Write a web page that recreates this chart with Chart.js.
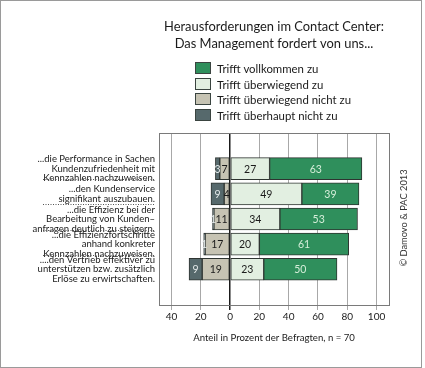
<!DOCTYPE html>
<html>
<head>
<meta charset="utf-8">
<script src="https://cdn.jsdelivr.net/npm/chart.js@4"></script>
<style>
  html, body { margin: 0; padding: 0; background: #fff; }
  #wrap { position: relative; width: 425px; height: 368px; font-family: Lato, sans-serif; color: #1a1a1a; }
  #frame { position: absolute; left: 0; top: 0; width: 422px; height: 368px; box-sizing: border-box; border: 1px solid #9a9a9a; pointer-events: none; }
  #chart-legend { position: absolute; left: 195px; top: 62px; }
  #chart-legend ul { list-style: none; margin: 0; padding: 0; }
  #chart-legend li { height: 15.5px; line-height: 13px; font-size: 11.4px; white-space: nowrap; }
  #chart-legend li span { display: inline-block; width: 14px; height: 10px; border: 1px solid #3a4440; vertical-align: top; margin-right: 6px; }
  #copy { position: absolute; left: 403px; top: 218px; font-size: 9.3px; color: #333; white-space: nowrap;
          transform: translate(-50%, -50%) rotate(-90deg); }
</style>
</head>
<body>
<div id="wrap">
  <canvas id="contact-chart" width="425" height="368"></canvas>
  <div id="chart-legend"></div>
  <div id="copy">© Damovo &amp; PAC 2013</div>
  <div id="frame"></div>
</div>
<script>
  const categories = [
    ['...die Performance in Sachen', 'Kundenzufriedenheit mit', 'Kennzahlen nachzuweisen.'],
    ['...den Kundenservice', 'signifikant auszubauen.'],
    ['...die Effizienz bei der', 'Bearbeitung von Kunden–', 'anfragen deutlich zu steigern.'],
    ['...die Effizienzfortschritte', 'anhand konkreter', 'Kennzahlen nachzuweisen.'],
    ['....den Vertrieb effektiver zu', 'unterstützen bzw. zusätzlich', 'Erlöse zu erwirtschaften.']
  ];
  const vollkommen = [63, 39, 53, 61, 50];
  const ueberwiegend = [27, 49, 34, 20, 23];
  const ueberwiegendNicht = [7, 4, 11, 17, 19];
  const ueberhauptNicht = [3, 9, 1, 1, 9];
  const xTicks = [-40, -20, 0, 20, 40, 60, 80, 100];

  const green = '#2f8f5c';
  const lightGreen = '#e2efe1';
  const tan = '#c6c3b3';
  const slate = '#56696c';

  const ctx = document.getElementById('contact-chart');

  // positive side stacks from 0 to the right, negative side from 0 to the left
  const datasets = [
    { label: 'Trifft überwiegend zu', data: ueberwiegend, backgroundColor: lightGreen, textColor: '#1a1a1a' },
    { label: 'Trifft vollkommen zu', data: vollkommen, backgroundColor: green, textColor: '#d5eed9' },
    { label: 'Trifft überwiegend nicht zu', data: ueberwiegendNicht.map(v => -v), backgroundColor: tan, textColor: '#1a1a1a' },
    { label: 'Trifft überhaupt nicht zu', data: ueberhauptNicht.map(v => -v), backgroundColor: slate, textColor: '#e4eaea' }
  ].map(d => Object.assign(d, {
    borderColor: '#2e3431',
    borderWidth: 1,
    borderSkipped: false,
    barThickness: 22
  }));

  const legendOrder = [1, 0, 2, 3];

  const chart = new Chart(ctx, {
    type: 'bar',
    data: {
      labels: categories.map((c, i) => i),
      datasets: datasets
    },
    options: {
      indexAxis: 'y',
      responsive: false,
      animation: false,
      devicePixelRatio: 1,
      layout: {
        padding: { left: 0, right: 36, top: 0, bottom: 24 }
      },
      scales: {
        x: {
          type: 'linear',
          stacked: true,
          min: -48.5,
          max: 108.5,
          border: { display: false },
          grid: {
            color: (c) => (c.tick && c.tick.value === 0) ? '#1a1a1a' : '#a8a8a8',
            lineWidth: (c) => (c.tick && c.tick.value === 0) ? 1.5 : 1,
            tickLength: 5
          },
          afterBuildTicks: (scale) => { scale.ticks = xTicks.map(v => ({ value: v })); },
          ticks: {
            padding: 1,
            color: '#1a1a1a',
            font: { family: 'Lato', size: 10 },
            callback: (v) => Math.abs(v)
          },
          title: {
            display: true,
            text: 'Anteil in Prozent der Befragten, n = 70',
            color: '#1a1a1a',
            font: { family: 'Lato', size: 9.6 },
            padding: { top: 8.5, bottom: 0 }
          }
        },
        y: {
          type: 'linear',
          stacked: true,
          reverse: true,
          min: -0.735,
          max: 4.735,
          border: { display: false },
          grid: { display: false, drawTicks: false },
          afterBuildTicks: (scale) => { scale.ticks = categories.map((c, i) => ({ value: i })); },
          afterFit: (scale) => { scale.width = 159; },
          ticks: {
            autoSkip: false,
            padding: 4,
            color: '#1a1a1a',
            font: { family: 'Lato', size: 9.5, lineHeight: 1 },
            callback: (v) => categories[v]
          }
        }
      },
      plugins: {
        legend: { display: false },
        tooltip: { enabled: false },
        title: {
          display: true,
          fullSize: false,
          text: ['Herausforderungen im Contact Center:', 'Das Management fordert von uns...'],
          color: '#1a1a1a',
          font: { family: 'Lato', size: 12.9, weight: 'normal', lineHeight: '17px' },
          padding: { top: 18, bottom: 81 }
        }
      }
    },
    plugins: [{
      id: 'frameAndLabels',
      afterDatasetsDraw: function (chart) {
        const c = chart.ctx;
        const area = chart.chartArea;
        c.save();
        c.font = '10.5px Lato';
        c.textAlign = 'center';
        c.textBaseline = 'middle';
        chart.data.datasets.forEach((ds, i) => {
          chart.getDatasetMeta(i).data.forEach((bar, j) => {
            const p = bar.getProps(['x', 'base', 'y'], true);
            c.fillStyle = ds.textColor;
            c.fillText(Math.abs(ds.data[j]), (p.x + p.base) / 2, p.y + 0.5);
          });
        });
        c.strokeStyle = '#7a7a7a';
        c.lineWidth = 1;
        c.strokeRect(Math.round(area.left) + 0.5, Math.round(area.top) + 0.5,
                     Math.round(area.right - area.left), Math.round(area.bottom - area.top));
        // dotted separators between the category labels
        const yScale = chart.scales.y;
        c.strokeStyle = '#555';
        c.setLineDash([1, 1.5]);
        for (let i = 0; i < categories.length - 1; i++) {
          const y = Math.round(yScale.getPixelForValue(i + 0.5)) - 1.5;
          c.beginPath();
          c.moveTo(43, y);
          c.lineTo(155, y);
          c.stroke();
        }
        c.restore();
      }
    }]
  });

  // html legend in the original's order
  const ul = document.createElement('ul');
  legendOrder.forEach(i => {
    const ds = chart.data.datasets[i];
    ul.innerHTML += `<li><span style="background-color: ${ds.backgroundColor}"></span>${ds.label}</li>`;
  });
  document.getElementById('chart-legend').appendChild(ul);
</script>
</body>
</html>
